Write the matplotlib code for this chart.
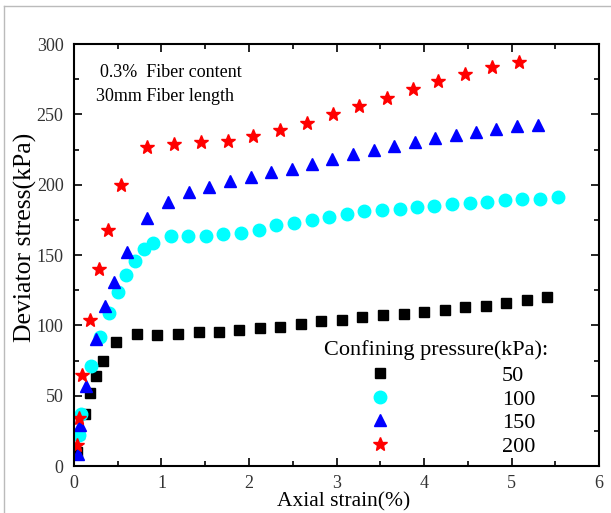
import matplotlib.pyplot as plt
from matplotlib.lines import Line2D
from matplotlib.ticker import MultipleLocator

plt.rcParams["font.family"] = ["Liberation Serif", "DejaVu Serif"]

# 50 kPa confining pressure
strain_50 = [0.03, 0.06, 0.13, 0.18, 0.25, 0.33, 0.48, 0.72, 0.95, 1.19, 1.43,
             1.66, 1.89, 2.13, 2.35, 2.59, 2.82, 3.06, 3.29, 3.53, 3.77, 4.00,
             4.24, 4.47, 4.71, 4.94, 5.18, 5.41]
stress_50 = [10, 23, 37, 52, 64, 75, 88, 94, 93, 94, 95, 95, 96.5, 98, 99, 101,
             103, 104, 106, 107.5, 108, 109.5, 111, 113, 114, 116, 118, 120]

# 100 kPa
strain_100 = [0.06, 0.08, 0.19, 0.30, 0.40, 0.50, 0.59, 0.70, 0.80, 0.90, 1.11,
              1.30, 1.51, 1.70, 1.91, 2.11, 2.31, 2.51, 2.72, 2.91, 3.12, 3.31,
              3.52, 3.73, 3.92, 4.11, 4.32, 4.53, 4.72, 4.93, 5.12, 5.33, 5.53]
stress_100 = [22, 37, 71, 92, 109, 124, 136, 146, 154, 158.5, 163.5, 163.5,
              163.5, 165, 165.5, 168, 171, 173, 175, 177, 179, 181, 182, 183,
              184, 185, 186, 187, 188, 189, 190, 190, 191]

# 150 kPa
strain_150 = [0.05, 0.07, 0.14, 0.25, 0.35, 0.46, 0.61, 0.83, 1.07, 1.31, 1.54,
              1.78, 2.02, 2.25, 2.49, 2.72, 2.95, 3.19, 3.43, 3.66, 3.90, 4.13,
              4.37, 4.59, 4.82, 5.06, 5.30]
stress_150 = [8.5, 29, 57, 90, 114, 131, 152, 176, 188, 195, 198, 202.5, 205.5,
              209, 211, 214.5, 218, 222, 224.5, 227.5, 230, 233, 235, 237.5,
              239.5, 241.5, 242.5]

# 200 kPa
strain_200 = [0.03, 0.06, 0.09, 0.18, 0.29, 0.39, 0.54, 0.83, 1.14, 1.45, 1.76,
              2.05, 2.35, 2.66, 2.96, 3.26, 3.58, 3.87, 4.16, 4.47, 4.78, 5.09]
stress_200 = [15, 34, 65, 104, 140, 168, 200, 227, 229, 230, 231, 234.5, 239,
              244, 250, 256, 261.5, 268, 273.5, 279, 283.5, 287]

fig = plt.figure(figsize=(6.11, 5.13), dpi=100)
ax = fig.add_axes([0.1211, 0.0916, 0.8593, 0.8226])

ax.plot(strain_50, stress_50, "s", color="black", markersize=7, linestyle="none", label="50")
ax.plot(strain_100, stress_100, "o", color="#00FFFF", markersize=9, linestyle="none", label="100")
ax.plot(strain_150, stress_150, "^", color="#0000FF", markersize=9, linestyle="none", label="150")
ax.plot(strain_200, stress_200, "*", color="#FF0000", markersize=10, linestyle="none", label="200")

ax.set_xlim(0, 6)
ax.set_ylim(0, 300)
ax.xaxis.set_major_locator(MultipleLocator(1))
ax.xaxis.set_minor_locator(MultipleLocator(0.5))
ax.yaxis.set_major_locator(MultipleLocator(50))
ax.yaxis.set_minor_locator(MultipleLocator(25))
ax.tick_params(which="both", direction="in", top=True, right=True, width=1.2)
ax.tick_params(which="major", length=6, labelsize=13, labelcolor="#333333")
ax.tick_params(axis="x", which="major", pad=6.5)
ax.tick_params(axis="y", which="major", pad=7.5)
ax.tick_params(which="minor", length=3.5)
for s in ax.spines.values():
    s.set_linewidth(1.5)

ax.set_xlabel("Axial strain(%)", fontsize=15.5, va="center")
ax.xaxis.set_label_coords(0.514, -0.085)
ax.set_ylabel("Deviator stress(kPa)", fontsize=18.5, va="center")
ax.yaxis.set_label_coords(-0.093, 0.5415)

ax.text(0.0495, 0.923, "0.3%  Fiber content", transform=ax.transAxes, fontsize=13, va="baseline")
ax.text(0.042, 0.866, "30mm Fiber length", transform=ax.transAxes, fontsize=13, va="baseline")

ax.text(0.6895, 0.274, "Confining pressure(kPa):", transform=ax.transAxes,
        fontsize=16, ha="center", va="center")
ax.legend(frameon=False, fontsize=16, loc="center left", bbox_to_anchor=(0.5505, 0.130),
          borderpad=0, borderaxespad=0, handletextpad=4.74, labelspacing=0.14,
          handlelength=1.5)

# thin gray screenshot border
fig.add_artist(Line2D([4 / 611, 1], [1 - 6 / 513, 1 - 6 / 513], color="#bbbbbb", lw=1))
fig.add_artist(Line2D([4 / 611, 4 / 611], [0, 1 - 6 / 513], color="#bbbbbb", lw=1))

fig.savefig("out.png", dpi=100)
